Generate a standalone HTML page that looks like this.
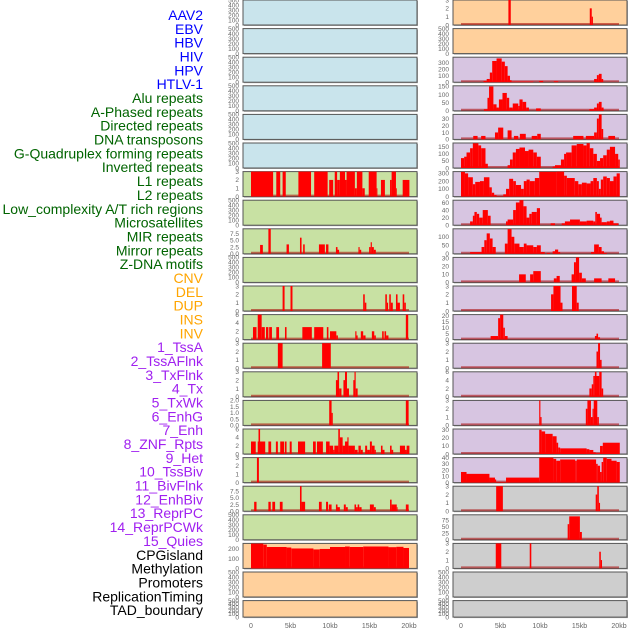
<!DOCTYPE html>
<html><head><meta charset="utf-8"><style>
html,body{margin:0;padding:0;background:#fff;}
svg{display:block;font-family:"Liberation Sans",sans-serif;}
</style></head><body>
<svg id="chart" width="630" height="630" viewBox="0 0 630 630"></svg>
<script>
// ---- data ----
const labelNames = ["AAV2","EBV","HBV","HIV","HPV","HTLV-1","Alu repeats","A-Phased repeats","Directed repeats","DNA transposons","G-Quadruplex forming repeats","Inverted repeats","L1 repeats","L2 repeats","Low_complexity A/T rich regions","Microsatellites","MIR repeats","Mirror repeats","Z-DNA motifs","CNV","DEL","DUP","INS","INV","1_TssA","2_TssAFlnk","3_TxFlnk","4_Tx","5_TxWk","6_EnhG","7_Enh","8_ZNF_Rpts","9_Het","10_TssBiv","11_BivFlnk","12_EnhBiv","13_ReprPC","14_ReprPCWk","15_Quies","CPGisland","Methylation","Promoters","ReplicationTiming","TAD_boundary"];
const labelColors = ["#0000ff","#0000ff","#0000ff","#0000ff","#0000ff","#0000ff","#006400","#006400","#006400","#006400","#006400","#006400","#006400","#006400","#006400","#006400","#006400","#006400","#006400","#ffa500","#ffa500","#ffa500","#ffa500","#ffa500","#a020f0","#a020f0","#a020f0","#a020f0","#a020f0","#a020f0","#a020f0","#a020f0","#a020f0","#a020f0","#a020f0","#a020f0","#a020f0","#a020f0","#a020f0","#000","#000","#000","#000","#000"];
const xTicks = [0,5,10,15,20];
const xTickLabels = ["0","5kb","10kb","15kb","20kb"];
const t500=[0,100,200,300,400,500], t3=[0,1,2,3], t6=[0,2,4,6], t75=[0,2.5,5,7.5], t2=[0,0.5,1,1.5,2];
const seg_L6=[[0,2.8,3],[3.2,3.7,3],[4,4.4,3],[6,7.6,3],[8,9.7,3],[9.9,10.4,2],[10.6,10.9,3],[10.9,11.25,2],[11.25,11.9,3],[11.9,12.1,2],[12.1,13.15,3],[13.15,13.4,1],[13.4,14.1,3],[14.1,14.4,1],[14.9,15.9,3],[15.9,16.0,1],[16.45,16.95,2],[17.6,17.8,2],[17.8,18.35,3],[18.35,18.45,1],[19.2,20.05,2]];
const seg_L8=[[1.15,1.5,3.3],[2.2,2.5,9.3],[4.5,4.8,3.5],[6.2,6.4,6],[6.6,6.8,3.5],[8.6,9.35,3.5],[9.5,9.8,3.5],[10.75,10.95,2.5],[10.95,11.15,1.5],[13.6,13.75,2.5],[13.75,13.95,1.5],[14.95,15.15,2.5],[15.15,15.3,4.3],[15.3,15.55,2.5],[15.55,15.8,1.5]];
const seg_L10=[[4.0,4.25,3],[5.0,5.25,3],[14.2,14.4,2],[14.4,14.6,1],[17.0,17.2,2],[17.2,17.35,1],[17.5,17.7,2],[17.7,17.95,1],[18.35,18.55,2],[18.55,18.85,1],[19.2,19.4,2],[19.4,19.6,1]];
const seg_L11=[[0.25,0.7,3],[0.85,1.35,6],[1.35,1.75,3],[1.9,2.2,3],[2.3,2.65,3],[3.2,3.55,3],[4.3,4.5,3],[6.5,7.7,3],[8.0,9.15,3],[9.6,9.8,3],[10.0,10.8,2],[10.8,11.0,1],[13.2,13.35,2],[13.35,13.5,1],[13.9,14.2,2],[14.2,14.5,1],[15.3,15.6,2],[15.6,15.8,1],[16.6,16.8,2],[16.9,17.1,2],[17.1,17.4,1],[19.6,19.9,6]];
const seg_L12=[[3.4,4.0,3],[9.0,10.1,3]];
const seg_L13=[[10.75,10.95,2],[10.95,11.15,3],[11.15,11.45,1],[11.7,11.9,2],[11.9,12.15,3],[12.15,12.4,1],[12.95,13.1,2],[13.1,13.25,3],[13.25,13.5,1]];
const seg_L14=[[9.9,10.2,2],[10.2,10.35,1],[19.6,19.95,2]];
const seg_L15=[[0,0.6,3],[0.85,1.8,3],[0.95,1.15,6],[2.2,2.55,3],[3.15,3.4,3],[3.7,4.2,3],[4.3,4.5,3],[4.9,5.15,3],[5.95,6.85,3],[7.85,8.2,3],[8.35,9.1,3],[9.5,9.95,3],[9.95,10.4,2],[10.4,10.55,1],[10.55,11.05,2],[11.05,11.25,6],[11.25,11.6,4],[11.6,11.9,2],[11.9,12.25,3],[12.2,12.35,4],[12.35,13.15,2],[13.15,13.5,1],[13.6,13.9,2],[13.9,14.15,1],[14.45,14.7,2],[14.7,15.05,1],[15.05,15.3,3],[15.3,15.65,2],[15.65,15.8,1],[16.45,16.65,2],[16.65,16.9,1],[17.6,17.8,2],[17.8,18.0,1],[18.85,19.5,2],[19.5,19.7,1],[19.7,20.05,2]];
const seg_L16=[[0.75,1.0,3]];
const seg_L17=[[0.4,0.7,3.5],[2.2,2.5,3.5],[2.7,3.05,3.5],[3.65,4.0,3.5],[6.2,6.4,9.3],[6.4,6.85,3.5],[8.6,8.95,3.5],[9.5,9.75,3.5],[9.85,10.2,2.5],[10.75,10.95,2.5],[10.95,11.25,1.5],[11.75,12.0,2.5],[12.0,12.25,1.5],[13.1,13.3,2.5],[13.3,13.5,1.5],[13.5,13.7,2.5],[13.7,14.0,1.5],[15.05,15.55,2.5],[15.55,15.8,1.5],[17.6,17.8,4.3],[17.8,18.45,2.5],[18.45,18.55,1.5],[19.6,19.95,2.5]];
const seg_L19=[[0,1.56,255],[1.56,2,245],[2,4.5,220],[4.5,5.1,215],[5.1,7.9,205],[7.9,8.7,195],[8.7,10,200],[10,11.9,220],[11.9,12.5,225],[12.5,14.2,220],[14.2,17.4,225],[17.4,18.4,218],[18.4,19.3,222],[19.3,20,210]];
const seg_R0=[[6.0,6.3,3],[16.3,16.55,2],[16.55,16.7,1]];
const seg_R2=[[2.85,3.25,20],[3.25,3.65,50],[3.65,3.95,150],[3.95,4.5,330],[4.5,5.15,370],[5.15,5.55,320],[5.55,5.9,250],[5.9,6.2,100],[6.2,6.4,30],[6.4,9.15,10],[9.9,10.4,20],[11.75,12.3,15],[16.85,17.2,50],[17.2,17.45,110],[17.45,17.8,130],[17.8,18.0,50]];
const seg_R3=[[2.9,3.35,10],[3.35,3.55,80],[3.55,4.1,150],[4.1,4.5,40],[4.5,4.8,20],[4.8,5.25,70],[5.25,5.8,110],[5.8,6.1,80],[6.1,6.55,20],[6.55,7.25,45],[7.25,7.4,30],[7.4,7.8,70],[7.8,8.25,55],[8.25,8.6,20],[9.5,10.1,15],[16.25,16.85,10],[16.85,17.2,20],[17.2,17.45,45],[17.45,17.8,55],[17.8,18.05,20]];
const seg_R4=[[1.55,2.1,5],[2.55,3.1,5],[4.3,4.7,10],[4.7,5.35,17],[5.9,6.4,13],[6.7,7.25,5],[7.45,8.2,8],[8.95,9.65,5],[9.65,10.1,8],[14.2,15.5,5],[15.8,16.85,5],[16.85,17.2,10],[17.2,17.45,30],[17.45,17.8,36],[17.8,18.0,15],[18.65,19.5,5]];
const seg_R5=[[0,0.4,70],[0.4,0.7,80],[0.7,1.15,110],[1.15,1.5,140],[1.5,2.2,175],[2.2,2.55,160],[2.55,3.1,140],[3.1,3.4,30],[5.9,6.2,20],[6.2,6.55,60],[6.55,6.95,110],[6.95,7.4,135],[7.4,8.1,145],[8.1,8.55,120],[8.55,9.15,130],[9.15,9.6,110],[9.6,10.1,80],[11.6,11.9,10],[11.9,12.65,20],[12.65,13.05,60],[13.05,13.3,100],[13.3,14.0,110],[14.0,14.65,160],[14.65,15.5,170],[15.5,15.9,160],[15.9,16.3,175],[16.3,16.75,140],[16.75,17.2,100],[17.2,17.6,50],[17.6,18.0,70],[18.0,18.45,90],[18.45,18.85,130],[18.85,19.5,150],[19.5,19.9,100],[19.9,20.1,60]];
const seg_R6=[[0,0.5,320],[0.5,0.9,300],[0.9,1.5,250],[1.5,1.8,160],[1.8,2.4,190],[2.4,2.9,200],[2.9,3.6,250],[3.6,3.9,120],[3.9,4.2,50],[4.2,4.5,20],[4.5,5.35,5],[5.35,5.7,30],[5.7,6.1,100],[6.1,6.6,230],[6.6,6.95,200],[6.95,7.6,150],[7.6,7.95,100],[7.95,8.3,200],[8.3,8.7,220],[8.7,9.35,200],[9.35,9.9,240],[9.9,12.1,320],[12.1,13.05,330],[13.05,13.4,270],[13.4,14.4,240],[14.4,14.85,200],[14.85,15.3,160],[15.3,15.9,180],[15.9,16.4,170],[16.4,16.75,200],[16.75,17.2,240],[17.2,17.45,200],[17.45,17.7,100],[17.7,18.0,220],[18.0,18.45,260],[18.45,18.85,240],[18.85,19.3,200],[19.3,19.7,260],[19.7,20.1,300]];
const seg_R7=[[1.15,1.5,10],[1.5,1.7,25],[1.7,2.0,35],[2.0,2.3,30],[2.3,2.75,20],[2.75,3.4,40],[3.4,3.75,25],[5.7,5.9,10],[5.9,6.6,15],[6.6,6.95,40],[6.95,7.4,60],[7.4,7.9,66],[7.9,8.3,50],[8.3,8.65,20],[8.65,8.95,30],[8.95,9.6,35],[9.6,10.0,45],[11.35,11.9,5],[12.75,13.15,5],[13.15,13.8,10],[13.8,15.05,15],[15.05,15.9,10],[15.9,16.75,12],[16.75,17.0,10],[17.0,17.2,35],[17.2,17.6,30],[17.6,17.8,20],[17.8,18.45,8],[18.45,18.85,10],[18.85,19.3,12],[19.3,19.9,5]];
const seg_R8=[[1.15,2.6,10],[2.6,2.95,40],[2.95,3.25,80],[3.25,3.65,120],[3.65,4.0,90],[4.0,4.4,40],[5.55,5.9,60],[5.9,6.4,145],[6.4,6.75,100],[6.75,7.4,60],[7.4,7.95,40],[7.95,8.3,60],[8.3,9.15,50],[9.15,9.6,40],[9.6,10.1,50],[10.1,10.6,10],[10.85,11.25,5],[11.6,11.9,15],[11.9,12.3,25],[12.3,12.55,10],[16.45,16.85,10],[16.85,17.45,55],[17.45,17.8,40],[17.8,18.1,15],[18.1,18.45,5]];
const seg_R9=[[7.35,8.2,10],[8.75,9.15,10],[9.15,10.1,14],[11.75,12.1,5],[12.1,12.5,8],[14.0,14.3,10],[14.3,14.55,25],[14.55,14.95,31],[14.95,15.3,12],[15.3,15.8,5],[16.85,17.8,5],[18.65,19.5,5]];
const seg_R10=[[11.4,11.7,2],[11.7,12.6,3],[12.6,12.85,1],[14.05,14.65,3],[14.65,14.9,1]];
const seg_R11=[[3.75,4.7,3],[4.7,4.95,18],[4.95,5.35,21],[5.35,5.55,10],[5.55,5.9,3],[16.95,17.15,3],[17.15,17.35,5],[17.35,17.6,2]];
const seg_R12=[[17.15,17.35,2],[17.35,17.6,3],[17.6,17.8,1]];
const seg_R13=[[16.25,16.55,2],[16.55,16.75,3],[16.75,16.95,5],[16.95,17.15,6],[17.15,17.5,5],[17.5,17.8,6],[17.8,18.0,2]];
const seg_R14=[[9.9,10.05,3],[10.05,10.2,1],[15.8,16.0,2],[16.0,16.45,3],[16.45,16.65,1],[16.65,16.8,2],[16.8,17.25,3],[17.25,17.45,1]];
const seg_R15=[[9.9,10.2,30],[10.2,10.65,28],[10.65,11.6,25],[11.6,12.1,22],[12.1,12.3,14],[12.3,12.55,8],[12.55,15.9,7],[15.9,16.25,6],[16.25,16.75,5],[16.75,17.05,2],[17.05,17.6,1],[17.6,17.95,10],[17.95,20.1,14]];
const seg_R16=[[0,0.7,17],[0.7,3.6,14],[3.6,4.3,8],[4.3,4.45,5],[4.45,5.7,1],[5.7,9.9,8],[9.9,11.7,40],[11.7,12.05,38],[12.05,12.55,35],[12.55,14.45,37],[14.45,14.65,35],[14.65,17.1,37],[17.1,17.3,30],[17.3,17.6,27],[17.6,17.8,17],[17.8,18.0,33],[18.0,18.45,40],[18.45,19.05,38],[19.05,19.7,35],[19.7,20.1,33]];
const seg_R17=[[4.45,5.3,3],[17.05,17.25,2],[17.25,17.45,3],[17.45,17.6,1]];
const seg_R18=[[13.5,13.7,60],[13.7,15.05,90],[15.05,15.3,30]];
const seg_R19=[[4.4,5.1,3],[8.7,8.9,3],[17.5,17.7,2],[17.7,17.85,1]];

const BLUE="#c9e4ec",GREEN="#c8e1a3",ORANGE="#ffd09c",PURPLE="#d7c5e1",GREY="#cecece";
// panels: [segments, yMax, ticks, tickLabels, fill]
const leftPanels=[
 [null,500,t500,null,BLUE],[null,500,t500,null,BLUE],[null,500,t500,null,BLUE],[null,500,t500,null,BLUE],[null,500,t500,null,BLUE],[null,500,t500,null,BLUE],
 [seg_L6,3,t3,null,GREEN],[null,500,t500,null,GREEN],[seg_L8,9.3,t75,["0.0","2.5","5.0","7.5"],GREEN],[null,500,t500,null,GREEN],
 [seg_L10,3,t3,null,GREEN],[seg_L11,6,t6,null,GREEN],[seg_L12,3,t3,null,GREEN],[seg_L13,3,t3,null,GREEN],
 [seg_L14,2,t2,["0.0","0.5","1.0","1.5","2.0"],GREEN],[seg_L15,6,t6,null,GREEN],[seg_L16,3,t3,null,GREEN],
 [seg_L17,9.3,t75,["0.0","2.5","5.0","7.5"],GREEN],[null,500,t500,null,GREEN],
 [seg_L19,257,[0,100,200],null,ORANGE],[null,500,t500,null,ORANGE],[null,500,t500,null,ORANGE]];
const rightPanels=[
 [seg_R0,3,t3,null,ORANGE],[null,500,t500,null,ORANGE],
 [seg_R2,389,[0,100,200,300],null,PURPLE],[seg_R3,154,[0,50,100,150],null,PURPLE],[seg_R4,36,[0,10,20,30],null,PURPLE],
 [seg_R5,177,[0,50,100,150],null,PURPLE],[seg_R6,323,[0,100,200,300],null,PURPLE],[seg_R7,66,[0,20,40,60],null,PURPLE],
 [seg_R8,147,[0,50,100],null,PURPLE],[seg_R9,31,[0,10,20,30],null,PURPLE],[seg_R10,3,t3,null,PURPLE],
 [seg_R11,21,[0,5,10,15,20],null,PURPLE],[seg_R12,3,t3,null,PURPLE],[seg_R13,6,t6,null,PURPLE],[seg_R14,3,t3,null,PURPLE],
 [seg_R15,31,[0,10,20,30],null,PURPLE],[seg_R16,40,[0,10,20,30,40],null,PURPLE],
 [seg_R17,3,t3,null,GREY],[seg_R18,96,[0,25,50,75],null,GREY],[seg_R19,3,t3,null,GREY],[null,500,t500,null,GREY],[null,500,t500,null,GREY]];

// ---- drawing ----
const NS="http://www.w3.org/2000/svg";
const svg=document.getElementById('chart');
function mk(tag,attrs,parent){const e=document.createElementNS(NS,tag);for(const k in attrs)e.setAttribute(k,attrs[k]);(parent||svg).appendChild(e);return e;}
const COLX=[243,453], PW=174, KBPX=7.9;
function xScale(col,kb){return COLX[col]+8+kb*KBPX;}
function rowTop(i){return i*28.6;}
function rowH(i){return i===21?16.5:25;}

labelNames.forEach((n,i)=>{
  const t=mk('text',{x:203,y:15+i*13.84+5,'text-anchor':'end','font-size':14,fill:labelColors[i]});
  
  
  t.textContent=n;
});

function drawPanel(col,i,p){
  const [segs,ymax,ticks,tl,fill]=p;
  const top=rowTop(i),h=rowH(i),x0=COLX[col];
  const g=mk('g',{});
  
  
  mk('rect',{x:x0+1,y:top+1,width:PW,height:h,fill:'#aaa'},g);
  mk('rect',{x:x0,y:top,width:PW,height:h,fill:fill,stroke:'#555','stroke-width':1},g);
  const yS=v=>top+h-v/ymax*h;
  if(segs){
    const bl=mk('line',{x1:xScale(col,0),x2:xScale(col,20),y1:top+h-1,y2:top+h-1,stroke:'rgba(170,0,0,0.55)','stroke-width':2},g);
    
    
    segs.forEach(s=>{
      const y=Math.max(top,yS(s[2]));
      const r=mk('rect',{x:xScale(col,s[0]),y:y,width:Math.max(0.8,(s[1]-s[0])*KBPX),height:top+h-y,fill:'#ff0000'},g);
      
      
    });
  }
  ticks.forEach((v,k)=>{
    const t=mk('text',{x:x0-4,y:yS(v)+2.3,'text-anchor':'end','font-size':6.5,fill:'#666'},g);
    
    
    t.textContent=tl?tl[k]:String(v);
  });
}
leftPanels.forEach((p,i)=>drawPanel(0,i,p));
rightPanels.forEach((p,i)=>drawPanel(1,i,p));

[0,1].forEach(col=>{
  xTicks.forEach((v,k)=>{
    const t=mk('text',{x:xScale(col,v),y:628,'text-anchor':'middle','font-size':7,fill:'#666'});
    
    
    t.textContent=xTickLabels[k];
  });
});
</script>
</body></html>
